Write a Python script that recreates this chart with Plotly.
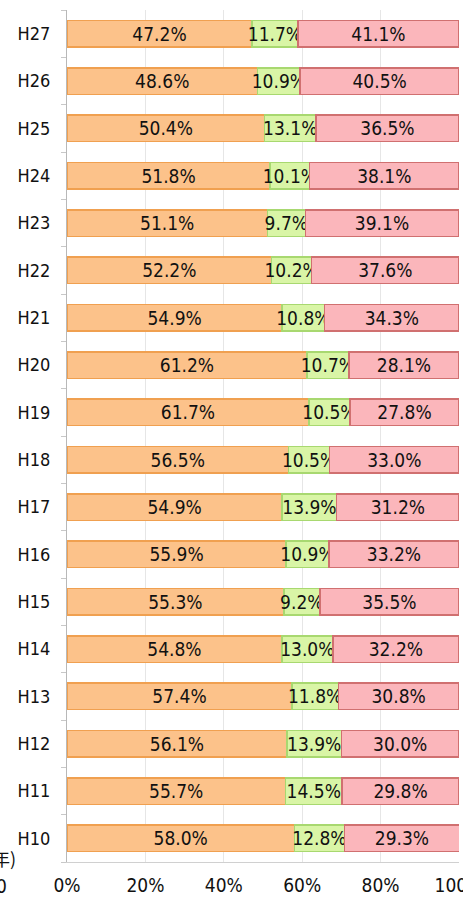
import plotly.graph_objects as go

years = ["H10", "H11", "H12", "H13", "H14", "H15", "H16", "H17", "H18",
         "H19", "H20", "H21", "H22", "H23", "H24", "H25", "H26", "H27"]
seg_a = [58.0, 55.7, 56.1, 57.4, 54.8, 55.3, 55.9, 54.9, 56.5,
         61.7, 61.2, 54.9, 52.2, 51.1, 51.8, 50.4, 48.6, 47.2]
seg_b = [12.8, 14.5, 13.9, 11.8, 13.0, 9.2, 10.9, 13.9, 10.5,
         10.5, 10.7, 10.8, 10.2, 9.7, 10.1, 13.1, 10.9, 11.7]
seg_c = [29.3, 29.8, 30.0, 30.8, 32.2, 35.5, 33.2, 31.2, 33.0,
         27.8, 28.1, 34.3, 37.6, 39.1, 38.1, 36.5, 40.5, 41.1]
x_ticks = [0, 20, 40, 60, 80, 100]
x_tick_text = ["0%", "20%", "40%", "60%", "80%", "100%"]

FONT = "DejaVu Sans Condensed, Noto Sans CJK JP, sans-serif"

series = [
    (seg_a, "#fcc28a", "#f0a050"),
    (seg_b, "#d9f5a6", "#a8d870"),
    (seg_c, "#fbb6bb", "#d07070"),
]

fig = go.Figure()
for vals, fill, line in series:
    fig.add_trace(go.Bar(
        y=years, x=vals, orientation="h",
        marker=dict(color=fill, line=dict(color=line, width=1.5)),
        text=[f"{v:.1f}%" for v in vals],
        textposition="inside", insidetextanchor="middle",
        constraintext="none", textangle=0,
        textfont=dict(family=FONT, size=19, color="#111111"),
        showlegend=False, hoverinfo="skip",
    ))

fig.update_layout(
    barmode="stack", bargap=0.44,
    width=463, height=897,
    margin=dict(l=67, r=4, t=10, b=35, autoexpand=False),
    plot_bgcolor="white", paper_bgcolor="white",
    uniformtext=dict(minsize=19, mode="show"),
    font=dict(family=FONT, color="#111111"),
)
fig.update_xaxes(
    range=[0, 100], tickvals=x_ticks, ticktext=x_tick_text,
    showgrid=True, gridcolor="#e6e6e6", gridwidth=1,
    showline=True, linecolor="#d0d0d0", zeroline=False,
    tickfont=dict(family=FONT, size=19, color="#111111"),
    ticks="", fixedrange=True, automargin=False,
    ticklabeloverflow="allow", ticklabelstandoff=6,
)
fig.update_yaxes(
    categoryorder="array", categoryarray=years,
    showline=True, linecolor="#b8b8b8", linewidth=1,
    ticks="outside", tickson="boundaries", ticklen=5, tickcolor="#c8c8c8",
    tickfont=dict(family=FONT, size=18, color="#111111"),
    showgrid=False, ticklabelstandoff=12, automargin=False,
)
fig.add_annotation(text="(年)", xref="paper", yref="paper", x=-0.125, y=0.005,
                   xanchor="right", yanchor="middle", showarrow=False,
                   font=dict(family="Noto Sans CJK JP", size=18, color="#111111"))
fig.add_annotation(text="0", xref="paper", yref="paper", x=-0.148, y=-0.028,
                   xanchor="right", yanchor="middle", showarrow=False,
                   font=dict(family=FONT, size=19, color="#111111"))

fig.write_html("out.html", config={"displayModeBar": False},
               post_script="document.body.style.margin='0';document.body.style.overflow='hidden';")
